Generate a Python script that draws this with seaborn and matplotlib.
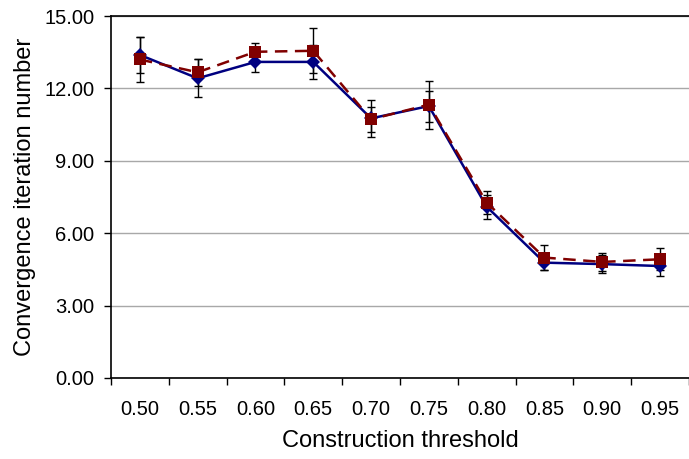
import numpy as np
import pandas as pd
import matplotlib
matplotlib.use("Agg")
import matplotlib.pyplot as plt
import seaborn as sns

thresholds = ["0.50", "0.55", "0.60", "0.65", "0.70", "0.75", "0.80", "0.85", "0.90", "0.95"]
series_a = [13.39, 12.42, 13.10, 13.10, 10.76, 11.27, 7.10, 4.78, 4.72, 4.64]
errors_a = [0.73, 0.79, 0.43, 0.69, 0.76, 0.64, 0.50, 0.31, 0.37, 0.42]
series_b = [13.20, 12.67, 13.52, 13.56, 10.72, 11.33, 7.27, 4.99, 4.81, 4.92]
errors_b = [0.93, 0.57, 0.36, 0.94, 0.52, 0.99, 0.48, 0.51, 0.37, 0.46]
y_ticks = [0, 3, 6, 9, 12, 15]

sns.set_theme(style="white")
plt.rcParams["font.family"] = ["Liberation Sans", "DejaVu Sans"]

pos = np.arange(len(thresholds))
df = pd.DataFrame({
    "pos": np.concatenate([pos, pos]),
    "value": series_a + series_b,
    "series": ["A"] * len(pos) + ["B"] * len(pos),
})

fig = plt.figure(figsize=(6.89, 4.59), dpi=100)
ax = fig.add_axes([0.161, 0.1765, 0.839, 0.7885])

# error bars underneath the lines
ax.errorbar(pos, series_a, yerr=errors_a, fmt="none", ecolor="black",
            elinewidth=1.0, capsize=2.6, capthick=1.0, zorder=2)
ax.errorbar(pos, series_b, yerr=errors_b, fmt="none", ecolor="black",
            elinewidth=1.0, capsize=2.6, capthick=1.0, zorder=2)

sns.lineplot(data=df, x="pos", y="value", hue="series", style="series",
             palette={"A": "#000080", "B": "#800000"},
             markers={"A": "D", "B": "s"},
             dashes={"A": "", "B": (5, 3)},
             markersize=7, linewidth=1.8, markeredgewidth=0,
             legend=False, ax=ax, zorder=3)
for ln in ax.lines:
    if ln.get_marker() == "s":
        ln.set_markersize(9)

ax.set_xlim(-0.5, len(thresholds) - 0.5)
ax.set_ylim(0, 15)
ax.set_yticks(y_ticks)
ax.set_yticklabels([f"{v:.2f}" for v in y_ticks])
ax.set_xticks(pos)
ax.set_xticklabels(thresholds)
ax.set_xticks(np.arange(-0.5, len(thresholds)), minor=True)

ax.tick_params(axis="x", which="major", length=0, pad=16, labelsize=14.5, colors="black")
ax.tick_params(axis="x", which="minor", length=5, width=1, color="black", direction="out", bottom=True)
ax.tick_params(axis="y", which="major", length=5, width=1, color="black", direction="out",
               left=True, pad=7, labelsize=14.5, labelcolor="black")

ax.grid(axis="y", color="#a8a8a8", linewidth=1.0)
ax.grid(axis="x", visible=False)
ax.set_axisbelow(True)

for side in ["left", "bottom", "top"]:
    ax.spines[side].set_visible(True)
    ax.spines[side].set_color("black")
    ax.spines[side].set_linewidth(1.2)
ax.spines["right"].set_visible(False)

ax.set_xlabel("Construction threshold", fontsize=17, color="black", labelpad=8)
ax.set_ylabel("Convergence iteration number", fontsize=17, color="black", labelpad=6)

fig.savefig("out.png", dpi=100)
